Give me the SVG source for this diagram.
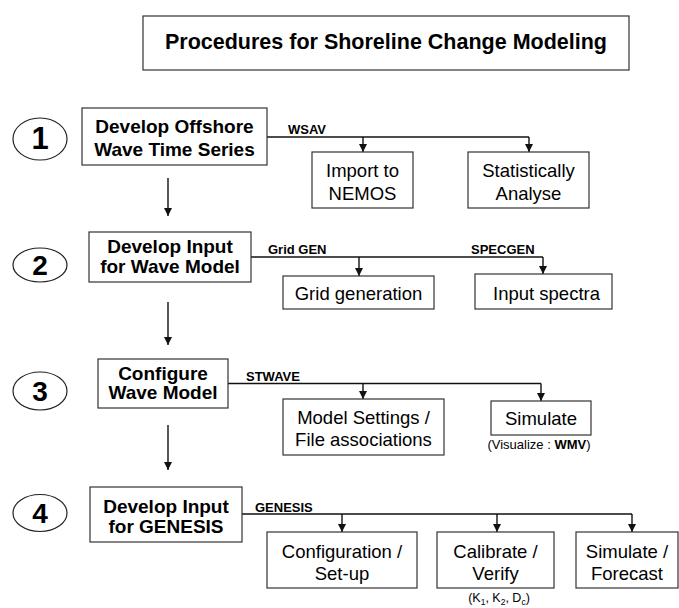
<svg xmlns="http://www.w3.org/2000/svg" width="679" height="608" viewBox="0 0 679 608">
<style>
text{font-family:"Liberation Sans",Arial,sans-serif;fill:#000}
.box{fill:#fff;stroke:#333;stroke-width:1.2}
.circ{fill:#fff;stroke:#222;stroke-width:1.2}
.title{font-size:21.5px;font-weight:bold;text-anchor:middle}
.num{font-size:28px;font-weight:bold;text-anchor:middle}
.main{font-size:19px;font-weight:bold;text-anchor:middle}
.sub{font-size:18.5px;text-anchor:middle}
.lbl{font-size:13px;font-weight:bold}
.note{font-size:13px;text-anchor:middle}
.con{fill:none;stroke:#111;stroke-width:1.4}
</style>
<defs>
<marker id="arr" markerUnits="userSpaceOnUse" markerWidth="8" markerHeight="9" viewBox="0 0 8 9" refX="8" refY="4" orient="auto">
<path d="M0,0 L8,4 L0,8 Z" fill="#111"/>
</marker>
</defs>

<g id="title">
<rect class="box" x="143" y="16" width="486" height="54"/>
<text class="title" x="386" y="49">Procedures for Shoreline Change Modeling</text>
</g>

<g id="step1">
<ellipse class="circ" cx="40" cy="139" rx="27" ry="21"/>
<text class="num" x="40" y="149" style="font-size:31px">1</text>
</g>
<g id="step2">
<ellipse class="circ" cx="40" cy="265" rx="27" ry="17"/>
<text class="num" x="40" y="275">2</text>
</g>
<g id="step3">
<ellipse class="circ" cx="40" cy="391" rx="27" ry="19"/>
<text class="num" x="40" y="401">3</text>
</g>
<g id="step4">
<ellipse class="circ" cx="40" cy="513" rx="27" ry="18.5"/>
<text class="num" x="40" y="523">4</text>
</g>

<g id="connectors">
<path class="con" d="M168,178 V216" marker-end="url(#arr)"/>
<path class="con" d="M168,302 V345" marker-end="url(#arr)"/>
<path class="con" d="M168,425 V470" marker-end="url(#arr)"/>

<path class="con" d="M267,137 H529"/>
<path class="con" d="M363,137 V152" marker-end="url(#arr)"/>
<path class="con" d="M529,137 V152" marker-end="url(#arr)"/>

<path class="con" d="M251,257 H543"/>
<path class="con" d="M359,257 V276" marker-end="url(#arr)"/>
<path class="con" d="M543,257 V274" marker-end="url(#arr)"/>

<path class="con" d="M228,383.5 H541"/>
<path class="con" d="M363,383.5 V399" marker-end="url(#arr)"/>
<path class="con" d="M541,383.5 V401" marker-end="url(#arr)"/>

<path class="con" d="M242,514 H632"/>
<path class="con" d="M342,514 V532" marker-end="url(#arr)"/>
<path class="con" d="M497,514 V532" marker-end="url(#arr)"/>
<path class="con" d="M632,514 V532" marker-end="url(#arr)"/>

<text class="lbl" x="288" y="134">WSAV</text>
<text class="lbl" x="268" y="254">Grid GEN</text>
<text class="lbl" x="471" y="254">SPECGEN</text>
<text class="lbl" x="246" y="381">STWAVE</text>
<text class="lbl" x="255" y="511.5">GENESIS</text>
</g>

<g id="node1">
<rect class="box" x="82" y="108" width="185" height="57"/>
<text class="main" x="174.5" y="133">Develop Offshore</text>
<text class="main" x="174.5" y="156">Wave Time Series</text>
</g>
<g id="node2">
<rect class="box" x="89" y="232" width="162" height="50"/>
<text class="main" x="170" y="253">Develop Input</text>
<text class="main" x="170" y="273">for Wave Model</text>
</g>
<g id="node3">
<rect class="box" x="98" y="359" width="130" height="49"/>
<text class="main" x="163" y="380">Configure</text>
<text class="main" x="163" y="399">Wave Model</text>
</g>
<g id="node4">
<rect class="box" x="90" y="487" width="152" height="55"/>
<text class="main" x="166" y="512.5">Develop Input</text>
<text class="main" x="166" y="533">for GENESIS</text>
</g>

<g id="import">
<rect class="box" x="312" y="152" width="101" height="56"/>
<text class="sub" x="362.5" y="177">Import to</text>
<text class="sub" x="362.5" y="199.5">NEMOS</text>
</g>
<g id="stat">
<rect class="box" x="468" y="152" width="121" height="56"/>
<text class="sub" x="528.5" y="177">Statistically</text>
<text class="sub" x="528.5" y="199.5">Analyse</text>
</g>
<g id="grid">
<rect class="box" x="283" y="276" width="151" height="33"/>
<text class="sub" x="358.5" y="299.5">Grid generation</text>
</g>
<g id="spectra">
<rect class="box" x="475" y="274" width="137" height="35"/>
<text class="sub" x="546.5" y="299.5">Input spectra</text>
</g>
<g id="settings">
<rect class="box" x="283" y="399" width="161" height="56"/>
<text class="sub" x="363.5" y="423.5">Model Settings /</text>
<text class="sub" x="363.5" y="446">File associations</text>
</g>
<g id="simulate3">
<rect class="box" x="491" y="401" width="100" height="34"/>
<text class="sub" x="541" y="425">Simulate</text>
<text class="note" x="539" y="449">(Visualize : <tspan font-weight="bold">WMV</tspan>)</text>
</g>
<g id="config">
<rect class="box" x="267" y="532" width="150" height="56"/>
<text class="sub" x="342" y="558">Configuration /</text>
<text class="sub" x="342" y="580">Set-up</text>
</g>
<g id="calibrate">
<rect class="box" x="437" y="532" width="117" height="56"/>
<text class="sub" x="495.5" y="558">Calibrate /</text>
<text class="sub" x="495.5" y="580">Verify</text>
<text class="note" x="499" y="602" style="font-size:12.5px">(K<tspan font-size="8.5" dy="3">1</tspan><tspan dy="-3">, K</tspan><tspan font-size="8.5" dy="3">2</tspan><tspan dy="-3">, D</tspan><tspan font-size="8.5" dy="3">c</tspan><tspan dy="-3">)</tspan></text>
</g>
<g id="forecast">
<rect class="box" x="576" y="532" width="102" height="56"/>
<text class="sub" x="627" y="558">Simulate /</text>
<text class="sub" x="627" y="580">Forecast</text>
</g>
</svg>
